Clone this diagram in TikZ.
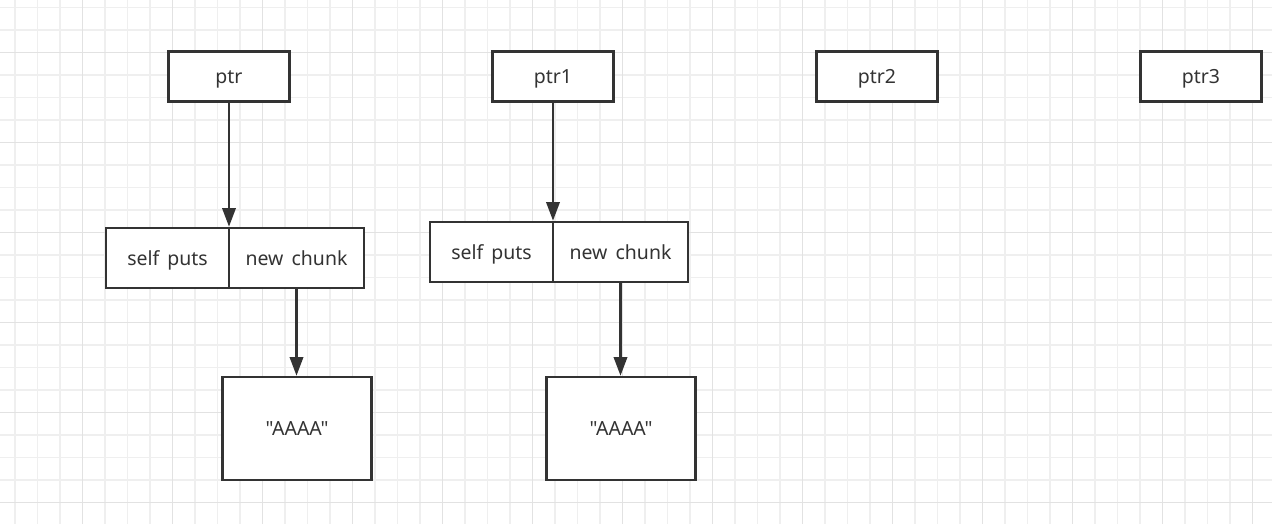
\documentclass[tikz,border=0pt]{standalone}
\usepackage{fontspec}
\setmainfont{Noto Sans}[WordSpace=1.6,Ligatures=TeXOff]
\usetikzlibrary{arrows.meta}
\definecolor{ink}{HTML}{333333}
\definecolor{gridminor}{HTML}{EFEFEF}
\definecolor{gridmajor}{HTML}{E2E2E2}
\tikzset{
  box/.style={draw=ink, line width=1.9pt, fill=white, inner sep=0pt, text=ink,
    font=\fontsize{14.6}{17}\selectfont, text height=12.5pt, text depth=1.5pt},
  ptrbox/.style={box, minimum width=90.75pt, minimum height=37.5pt},
  selfbox/.style={box, minimum width=92.25pt, minimum height=45pt},
  chunkbox/.style={box, minimum width=101.25pt, minimum height=45pt},
  databox/.style={box, minimum width=111.4pt, minimum height=77.25pt},
  link/.style={draw=ink, line width=1.9pt, -{Triangle[length=14pt,width=10pt]}},
  minorline/.style={draw=gridminor, line width=0.8pt},
  majorline/.style={draw=gridmajor, line width=0.8pt}
}
\begin{document}
\begin{tikzpicture}[x=0.75pt,y=-0.75pt]
\useasboundingbox (0,0) rectangle (1272,524);
\fill[white] (0,0) rectangle (1272,524);
% grid
\foreach \k in {0,...,55} \draw[minorline] ({15+22.5*\k},0) -- ({15+22.5*\k},524);
\foreach \k in {0,...,22} \draw[minorline] (0,{7.5+22.5*\k}) -- (1272,{7.5+22.5*\k});
\foreach \k in {0,...,13} \draw[majorline] ({82.5+90*\k},0) -- ({82.5+90*\k},524);
\foreach \k in {0,...,5} \draw[majorline] (0,{52.5+90*\k}) -- (1272,{52.5+90*\k});
% top pointers
\node[ptrbox] (ptr)  at (229,76.5)  {ptr};
\node[ptrbox] (ptr1) at (553,76.5)  {ptr1};
\node[ptrbox] (ptr2) at (877,76.5)  {ptr2};
\node[ptrbox] (ptr3) at (1201,76.5) {ptr3};
% first structure
\node[selfbox]  (self1)  at (167.5,258) {self puts};
\node[chunkbox] (new1)   at (296.5,258) {new chunk};
\node[databox]  (data1)  at (297,428.5) {"AAAA"};
% second structure
\node[selfbox]  (self2)  at (491.5,252) {self puts};
\node[chunkbox] (new2)   at (620.5,252) {new chunk};
\node[databox]  (data2)  at (621,428.5) {"AAAA"};
% connectors
\draw[link] (ptr.south)  -- (ptr.south |- self1.north);
\draw[link] (new1.south) -- (new1.south |- data1.north);
\draw[link] (ptr1.south) -- (ptr1.south |- self2.north);
\draw[link] (new2.south) -- (new2.south |- data2.north);
\end{tikzpicture}
\end{document}
